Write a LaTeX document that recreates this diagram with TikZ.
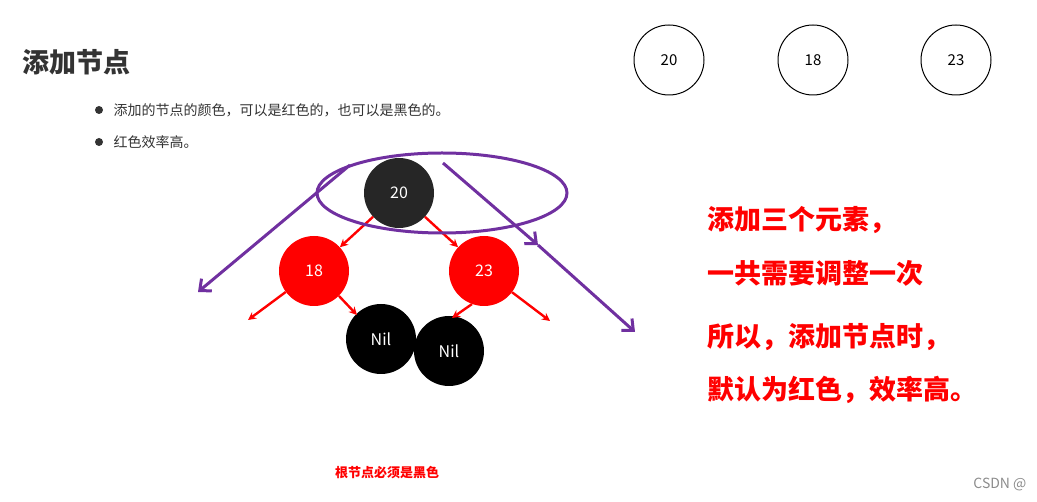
\documentclass[tikz,border=0pt]{standalone}
\usepackage{fontspec}
\setmainfont{Noto Sans CJK SC}
\usetikzlibrary{arrows.meta}
\definecolor{pur}{RGB}{112,48,160}
\begin{document}
\begin{tikzpicture}[x=1pt,y=-1pt,
  tnode/.style={circle,minimum size=70pt,inner sep=0pt,font=\fontsize{16}{16}\selectfont},
  topc/.style={circle,draw,line width=1pt,minimum size=70pt,inner sep=0pt,font=\fontsize{15}{15}\selectfont},
  redar/.style={red,line width=2.4pt,-{Stealth[length=8pt,width=8pt]}},
  purar/.style={pur,line width=3pt,-{Straight Barb[length=9pt,width=16pt]}},
  bigred/.style={red,anchor=west,font=\bfseries\fontsize{27}{27}\selectfont}]
\useasboundingbox (0,0) rectangle (1037,502);
\node[anchor=west,font=\bfseries\fontsize{27}{27}\selectfont,text=black!80] (title) at (19,62) {添加节点};
\fill[black!80] (99,110) circle (4);
\fill[black!80] (99,142) circle (4);
\node[anchor=west,font=\fontsize{14}{14}\selectfont,text=black!80] (b1) at (110,110) {添加的节点的颜色，可以是红色的，也可以是黑色的。};
\node[anchor=west,font=\fontsize{14}{14}\selectfont,text=black!80] (b2) at (110,142) {红色效率高。};
\node[topc] (t20) at (669,60) {20};
\node[topc] (t18) at (813,60) {18};
\node[topc] (t23) at (956,60) {23};
\node[tnode,fill=black!85,text=white] (n20) at (399,193) {20};
\node[tnode,fill=red,text=white] (n18) at (314,271) {18};
\node[tnode,fill=red,text=white] (n23) at (484,271) {23};
\node[tnode,fill=black,text=white] (nil1) at (381,339) {Nil};
\node[tnode,fill=black,text=white] (nil2) at (449,351) {Nil};
\coordinate (a1) at (248,320); \coordinate (a2) at (550,321);
\draw[redar] (n20) -- (n18);
\draw[redar] (n20) -- (n23);
\draw[redar] (n18) -- (a1);
\draw[redar] (n18.-45) -- (357,315);
\draw[redar] (n23.-110) -- (452,318);
\draw[redar] (n23) -- (a2);
\draw[pur,line width=3pt] (442,193) ellipse (125 and 40);
\coordinate (p1) at (350,165); \coordinate (p2) at (198,292);
\coordinate (q1) at (443,163); \coordinate (qm) at (538,245); \coordinate (q2) at (635,332);
\draw[purar] (p1) -- (p2);
\draw[purar] (q1) -- (qm);
\draw[purar] (qm) -- (q2);
\node[bigred] (r1) at (704,220) {添加三个元素，};
\node[bigred] (r2) at (704,273) {一共需要调整一次};
\node[bigred] (r3) at (704,337) {所以，添加节点时，};
\node[bigred] (r4) at (704,390) {默认为红色，效率高。};
\node[red,font=\bfseries\fontsize{13}{13}\selectfont] (bot) at (387,473) {根节点必须是黑色};
\node[anchor=east,text=black!45,font=\fontsize{14}{14}\selectfont] (wm) at (1030,484) {CSDN @};
\end{tikzpicture}
\end{document}
